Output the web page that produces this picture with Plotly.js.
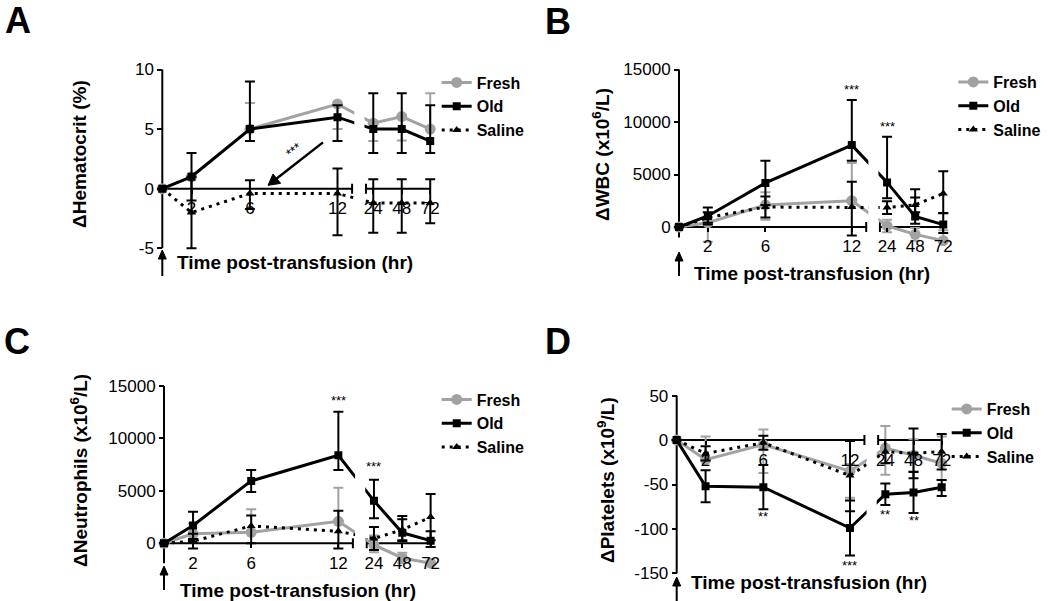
<!DOCTYPE html>
<html><head><meta charset="utf-8">
<script src="https://cdn.plot.ly/plotly-3.0.1.min.js"></script>
<style>html,body{margin:0;padding:0;background:#fff}#chart{width:1050px;height:601px}</style>
</head><body><div id="chart"></div>
<script>
// ---------- data ----------
const hours = [0, 2, 6, 12, 24, 48, 72];
const xTickHours1 = [2, 6, 12];
const xTickHours2 = [24, 48, 72];
const seriesNames = ['Fresh', 'Old', 'Saline'];

// A: Hematocrit (%)
const hctFresh = [0, 1, 5, 7.1, 5.5, 6.05, 5.0];
const hctFreshUp = [0, 0, 2.2, 0, 0, 0, 3.0];
const hctFreshDown = [0, 0, 0, 2.1, 1.5, 2.0, 0];
const hctOld = [0, 1, 5, 6, 5, 5, 4];
const hctOldUp = [0, 2, 4, 1, 3, 3, 3];
const hctOldDown = [0, 2, 1, 2, 2, 2, 1];
const hctSaline = [0, -2, -0.4, -0.4, -1.2, -1.2, -1.2];
const hctSalineUp = [0, 3, 1.1, 2.1, 2.0, 2.0, 2.0];
const hctSalineDown = [0, 3, 1.3, 3.5, 2.5, 2.5, 1.7];
const hctTicks = [-5, 0, 5, 10];
const hctTickText = ['-5', '0', '5', '10'];

// B: WBC (x10^6/L)
const wbcFresh = [0, 400, 2100, 2500, 100, -700, -1300];
const wbcFreshUp = [0, 0, 1200, 3600, 600, 600, 1000];
const wbcFreshDown = [0, 1800, 1400, 0, 600, 600, 0];
const wbcOld = [0, 1050, 4200, 7800, 4250, 1000, 230];
const wbcOldUp = [0, 800, 2100, 4300, 4350, 2600, 1100];
const wbcOldDown = [0, 800, 2100, 1500, 1500, 700, 800];
const wbcSaline = [0, 900, 1900, 1900, 1850, 2100, 3200];
const wbcSalineUp = [0, 500, 1000, 2400, 600, 700, 2100];
const wbcSalineDown = [0, 500, 1000, 2700, 600, 700, 1900];
const wbcTicks = [0, 5000, 10000, 15000];
const wbcTickText = ['0', '5000', '10000', '15000'];

// C: Neutrophils (x10^6/L)
const neuFresh = [0, 900, 1050, 2100, -150, -1400, -1900];
const neuFreshUp = [0, 1000, 2200, 3200, 900, 500, 0];
const neuFreshDown = [0, 0, 0, 0, 700, 500, 0];
const neuOld = [0, 1700, 5950, 8400, 4050, 1000, 250];
const neuOldUp = [0, 1300, 1050, 4150, 2000, 1600, 900];
const neuOldDown = [0, 1300, 1050, 1400, 1650, 800, 600];
const neuSaline = [0, 200, 1650, 1150, 450, 1300, 2500];
const neuSalineUp = [0, 700, 1000, 1950, 1100, 1000, 2200];
const neuSalineDown = [0, 700, 1650, 1650, 1100, 1000, 2200];
const neuTicks = [0, 5000, 10000, 15000];
const neuTickText = ['0', '5000', '10000', '15000'];

// D: Platelets (x10^9/L)
const pltFresh = [0, -22, -5, -35, -9, -17, -26];
const pltFreshUp = [0, 26, 17, 8, 25, 18, 30];
const pltFreshDown = [0, 0, 32, 30, 30, 18, 19];
const pltOld = [0, -52, -53, -99, -61, -59, -53];
const pltOldUp = [0, 18, 25, 31, 12, 23, 8];
const pltOldDown = [0, 18, 25, 31, 12, 23, 10];
const pltSaline = [0, -15, -3, -40, -13, -15, -13];
const pltSalineUp = [0, 8, 8, 39, 13, 28, 20];
const pltSalineDown = [0, 8, 8, 40, 13, 28, 20];
const pltTicks = [-150, -100, -50, 0, 50];
const pltTickText = ['-150', '-100', '-50', '0', '50'];

// significance marks: [hour, value, text]
const wbcStars = [[12, 13050, '***'], [24, 9550, '***']];
const neuStars = [[12, 13660, '***'], [24, 7300, '***']];
const pltStars = [[6, -86.5, '**'], [12, -141, '***'], [24, -84, '**'], [48, -90, '**']];

// ---------- layout helpers ----------
const W = 1050, H = 601;
const FONT = 'Liberation Sans, Arial, sans-serif';
const GRAY = '#a2a2a2';
const SEG1_END = 13.0, SEG2_START = 13.95, SEG2_FIRST = 14.45, SEG2_STEP = 1.95;
const X1R0 = -0.8, X1R1 = 13.15, X2R0 = 13.85, X2R1 = 19.0;
function hourPos(h) {
  return h <= 12 ? h : SEG2_FIRST + xTickHours2.indexOf(h) * SEG2_STEP;
}

const panels = [
  {ox: 162.3, kx: 14.6, topVal: 10, topPx: 69.5, botVal: -5, botPx: 248.3, axLo: -5, axHi: 10,
   ticks: hctTicks, tickText: hctTickText,
   series: [[hctFresh, hctFreshUp, hctFreshDown], [hctOld, hctOldUp, hctOldDown], [hctSaline, hctSalineUp, hctSalineDown]],
   stars: [], letter: 'A', letterPos: [17.5, 21], ytitle: 'ΔHematocrit (%)', ytPos: [79, 154],
   xtPos: [295, 262], legendPos: [436.7, 65.5], arrow: [250, 276]},
  {ox: 679, kx: 14.4, topVal: 15000, topPx: 69.5, botVal: 0, botPx: 227, axLo: -1000, axHi: 15000,
   ticks: wbcTicks, tickText: wbcTickText,
   series: [[wbcFresh, wbcFreshUp, wbcFreshDown], [wbcOld, wbcOldUp, wbcOldDown], [wbcSaline, wbcSalineUp, wbcSalineDown]],
   stars: wbcStars, letter: 'B', letterPos: [558, 21.5], ytitle: 'ΔWBC (x10<sup>6</sup>/L)', ytPos: [601, 155],
   xtPos: [812, 273], legendPos: [953.3, 65], arrow: [252, 276]},
  {ox: 164, kx: 14.53, topVal: 15000, topPx: 386, botVal: 0, botPx: 543.3, axLo: -1900, axHi: 15000,
   ticks: neuTicks, tickText: neuTickText,
   series: [[neuFresh, neuFreshUp, neuFreshDown], [neuOld, neuOldUp, neuOldDown], [neuSaline, neuSalineUp, neuSalineDown]],
   stars: neuStars, letter: 'C', letterPos: [17, 341.5], ytitle: 'ΔNeutrophils (x10<sup>6</sup>/L)', ytPos: [79, 471],
   xtPos: [297.5, 590], legendPos: [436.7, 382.5], arrow: [566, 590]},
  {ox: 676.7, kx: 14.44, topVal: 50, topPx: 395.7, botVal: -150, botPx: 573.3, axLo: -150, axHi: 50,
   ticks: pltTicks, tickText: pltTickText,
   series: [[pltFresh, pltFreshUp, pltFreshDown], [pltOld, pltOldUp, pltOldDown], [pltSaline, pltSalineUp, pltSalineDown]],
   stars: pltStars, letter: 'D', letterPos: [558, 341.5], ytitle: 'ΔPlatelets (x10<sup>9</sup>/L)', ytPos: [606, 480],
   xtPos: [809, 582], legendPos: [946.7, 392], arrow: [577, 601]}
];

const styles = [
  {color: GRAY, symbol: 'circle', size: 11, dash: 'solid'},
  {color: '#000', symbol: 'square', size: 8, dash: 'solid'},
  {color: '#000', symbol: 'triangle-up', size: 8, dash: '3px,5px'}
];

const traces = [];
const layout = {
  width: W, height: H, autosize: false, showlegend: true,
  margin: {l: 0, r: 0, t: 0, b: 0},
  paper_bgcolor: '#fff', plot_bgcolor: 'rgba(0,0,0,0)',
  font: {family: FONT, color: '#000', size: 17},
  shapes: [], annotations: []
};

const axisLine = {color: '#000', width: 2};
panels.forEach((p, pi) => {
  const n1 = pi * 2 + 1, n2 = pi * 2 + 2;
  const xa1 = n1 === 1 ? 'x' : 'x' + n1, xa2 = 'x' + n2;
  const ya = pi === 0 ? 'y' : 'y' + (pi + 1);
  const legName = pi === 0 ? 'legend' : 'legend' + (pi + 1);
  const ky = (p.botPx - p.topPx) / (p.topVal - p.botVal);
  const pxOfY = v => p.topPx + (p.topVal - v) * ky;
  const pad = 0.05 * (p.axHi - p.axLo);
  const yLo = p.axLo - pad, yHi = p.axHi + pad;
  const y0frac = 1 - pxOfY(0) / H;

  p.series.forEach((s, si) => {
    const st = styles[si];
    [xa1, xa2].forEach((xa, segi) => {
      traces.push({
        type: 'scatter', mode: 'lines+markers', name: seriesNames[si],
        x: hours.map(hourPos), y: s[0], xaxis: xa, yaxis: ya,
        legend: legName, showlegend: segi === 0, hoverinfo: 'skip',
        line: {color: st.color, width: 3, dash: st.dash},
        marker: {symbol: st.symbol, size: st.size, color: st.color},
        error_y: {type: 'data', symmetric: false, array: s[1], arrayminus: s[2],
                  color: st.color, thickness: 2, width: 5}
      });
    });
  });

  const xCommon = {anchor: 'free', position: y0frac, showline: false, showgrid: false, zeroline: false,
    ticks: 'outside', ticklen: 4, tickwidth: 2, tickcolor: '#000',
    tickfont: {family: FONT, size: 17, color: '#000'}, fixedrange: true};
  layout[n1 === 1 ? 'xaxis' : 'xaxis' + n1] = Object.assign({}, xCommon, {
    domain: [(p.ox + X1R0 * p.kx) / W, (p.ox + X1R1 * p.kx) / W], range: [X1R0, X1R1],
    tickmode: 'array', tickvals: xTickHours1, ticktext: xTickHours1.map(String)});
  layout['xaxis' + n2] = Object.assign({}, xCommon, {
    domain: [(p.ox + X2R0 * p.kx) / W, (p.ox + X2R1 * p.kx) / W], range: [X2R0, X2R1],
    tickmode: 'array', tickvals: xTickHours2.map(hourPos), ticktext: xTickHours2.map(String)});
  layout[pi === 0 ? 'yaxis' : 'yaxis' + (pi + 1)] = {
    domain: [1 - pxOfY(yLo) / H, 1 - pxOfY(yHi) / H], range: [yLo, yHi],
    anchor: 'free', position: p.ox / W, side: 'left',
    showline: false, showgrid: false, zeroline: false,
    ticks: 'outside', ticklen: 5, tickwidth: 2, tickcolor: '#000',
    tickmode: 'array', tickvals: p.ticks, ticktext: p.tickText,
    tickfont: {family: FONT, size: 17, color: '#000'}, fixedrange: true};

  // axis lines (broken x axis)
  layout.shapes.push({type: 'line', layer: 'below', xref: xa1, yref: ya, x0: 0, x1: 0, y0: p.axLo, y1: p.axHi, line: axisLine});
  layout.shapes.push({type: 'line', layer: 'below', xref: xa1, yref: ya, x0: 0, x1: SEG1_END, y0: 0, y1: 0, line: axisLine});
  layout.shapes.push({type: 'line', layer: 'below', xref: xa2, yref: ya, x0: SEG2_START, x1: hourPos(72), y0: 0, y1: 0, line: axisLine});
  layout.shapes.push({type: 'line', layer: 'below', xref: xa1, yref: ya, ysizemode: 'pixel', yanchor: 0,
    x0: SEG1_END, x1: SEG1_END, y0: -5, y1: 5, line: axisLine});
  layout.shapes.push({type: 'line', layer: 'below', xref: xa2, yref: ya, ysizemode: 'pixel', yanchor: 0,
    x0: SEG2_START, x1: SEG2_START, y0: -5, y1: 5, line: axisLine});

  // transfusion arrow under the y axis (pixel-sized shapes anchored at x=0)
  const headFrac = 1 - p.arrow[0] / H, len = p.arrow[1] - p.arrow[0];
  layout.shapes.push({type: 'line', xref: 'paper', yref: 'paper', xsizemode: 'pixel', ysizemode: 'pixel',
    xanchor: p.ox / W, yanchor: headFrac, x0: 0, x1: 0, y0: -6, y1: -len, line: {color: '#000', width: 2}});
  layout.shapes.push({type: 'path', xref: 'paper', yref: 'paper', xsizemode: 'pixel', ysizemode: 'pixel',
    xanchor: p.ox / W, yanchor: headFrac, path: 'M0,0 L-4,-9 L4,-9 Z',
    fillcolor: '#000', line: {color: '#000', width: 1}});

  // legend
  layout[legName] = {x: p.legendPos[0] / W, y: 1 - p.legendPos[1] / H, xanchor: 'left', yanchor: 'top',
    bgcolor: 'rgba(0,0,0,0)', borderwidth: 0, tracegroupgap: 0,
    font: {family: FONT, size: 16, color: '#000', weight: 'bold'}};

  // texts
  layout.annotations.push({xref: 'paper', yref: 'paper', x: p.letterPos[0] / W, y: 1 - p.letterPos[1] / H,
    xanchor: 'center', yanchor: 'middle', showarrow: false, text: p.letter,
    font: {family: FONT, size: 36, weight: 'bold', color: '#000'}});
  layout.annotations.push({xref: 'paper', yref: 'paper', x: p.ytPos[0] / W, y: 1 - p.ytPos[1] / H,
    xanchor: 'center', yanchor: 'middle', showarrow: false, text: p.ytitle, textangle: -90,
    font: {family: FONT, size: 19, weight: 'bold', color: '#000'}});
  layout.annotations.push({xref: 'paper', yref: 'paper', x: p.xtPos[0] / W, y: 1 - p.xtPos[1] / H,
    xanchor: 'center', yanchor: 'middle', showarrow: false, text: 'Time post-transfusion (hr)',
    font: {family: FONT, size: 19, weight: 'bold', color: '#000'}});
  // significance stars
  p.stars.forEach(s => {
    layout.annotations.push({xref: s[0] <= 12 ? xa1 : xa2, yref: ya, x: hourPos(s[0]), y: s[1],
      text: s[2], showarrow: false, xanchor: 'center', yanchor: 'middle',
      font: {family: FONT, size: 13, color: '#000'}});
  });
});

// panel A: diagonal arrow (pixel-sized, anchored at its head) with ***
layout.shapes.push({type: 'line', xref: 'x', yref: 'y', xsizemode: 'pixel', ysizemode: 'pixel',
  xanchor: 7.24, yanchor: 0.28, x0: 8.7, y0: 6.8, x1: 55, y1: 43, line: {color: '#000', width: 2.5}});
layout.shapes.push({type: 'path', xref: 'x', yref: 'y', xsizemode: 'pixel', ysizemode: 'pixel',
  xanchor: 7.24, yanchor: 0.28, path: 'M0,0 L5.0,11.4 L12.6,2.0 Z',
  fillcolor: '#000', line: {color: '#000', width: 1}});
layout.annotations.push({xref: 'x', yref: 'y', x: 8.97, y: 3.21, text: '***', showarrow: false,
  textangle: -37, font: {family: FONT, size: 13, color: '#000'}});

Plotly.newPlot('chart', traces, layout, {staticPlot: true, displayModeBar: false});
</script>
</body></html>
